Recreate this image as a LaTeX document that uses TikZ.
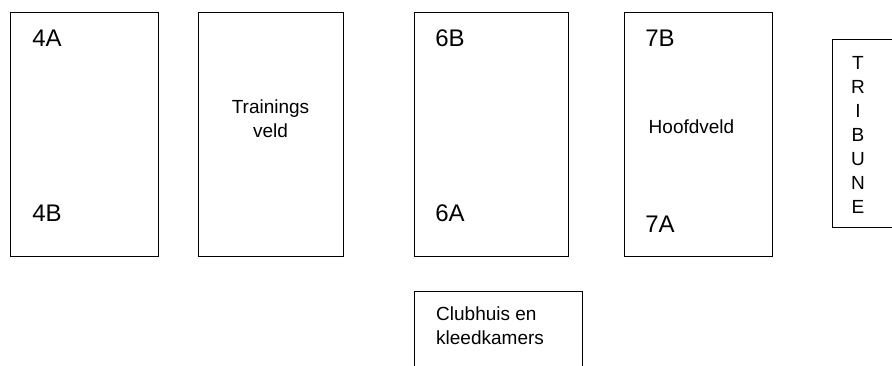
\documentclass[tikz,border=0pt]{standalone}
\usepackage{fontspec}
\setmainfont{Liberation Sans}
\usepackage{tikz}
\usetikzlibrary{positioning}
\tikzset{
  veld/.style={line width=1pt},
  naam/.style={inner sep=0pt,font=\fontsize{24}{24}\selectfont},
  tekst/.style={inner sep=0pt,font=\fontsize{19}{24}\selectfont,align=center}
}

\begin{document}
\begin{tikzpicture}[x=1pt,y=-1pt]
\useasboundingbox (0,0) rectangle (892,365);
% velden
\coordinate (V4a) at (10,12);
\coordinate (V4b) at (158,256);
\coordinate (Ta) at (198,12);
\coordinate (Tb) at (343,256);
\coordinate (V6a) at (414,12);
\coordinate (V6b) at (568,256);
\coordinate (V7a) at (624,12);
\coordinate (V7b) at (772,256);
\draw[veld] (V4a) rectangle (V4b);
\draw[veld] (Ta) rectangle (Tb);
\draw[veld] (V6a) rectangle (V6b);
\draw[veld] (V7a) rectangle (V7b);
% tribune en clubhuis lopen door tot buiten de rand
\coordinate (Tr1) at (900,39);
\coordinate (Tr2) at (832,39);
\coordinate (Tr3) at (832,227);
\coordinate (Tr4) at (900,227);
\draw[veld] (Tr1) -- (Tr2) -- (Tr3) -- (Tr4);
\coordinate (C1) at (414,370);
\coordinate (C2) at (414,291);
\coordinate (C3) at (582,291);
\coordinate (C4) at (582,370);
\draw[veld] (C1) -- (C2) -- (C3) -- (C4);
% teksten
\node[naam] (n4A) at (47,38.5) {4A};
\node[naam] (n4B) at (47,213) {4B};
\node[tekst] (train) at (270.5,118.5) {Trainings\\veld};
\node[naam] (n6B) at (450,38.5) {6B};
\node[naam] (n6A) at (450,213) {6A};
\node[naam] (n7B) at (660,38.5) {7B};
\node[naam] (n7A) at (660,224.5) {7A};
\node[tekst] (hoofd) at (691.5,127) {Hoofdveld};
\node[tekst] (trib) at (858,135) {T\\R\\I\\B\\U\\N\\E};
\node[tekst,align=left,anchor=west] (club) at (436,325.5) {Clubhuis en\\kleedkamers};
\end{tikzpicture}
\end{document}
